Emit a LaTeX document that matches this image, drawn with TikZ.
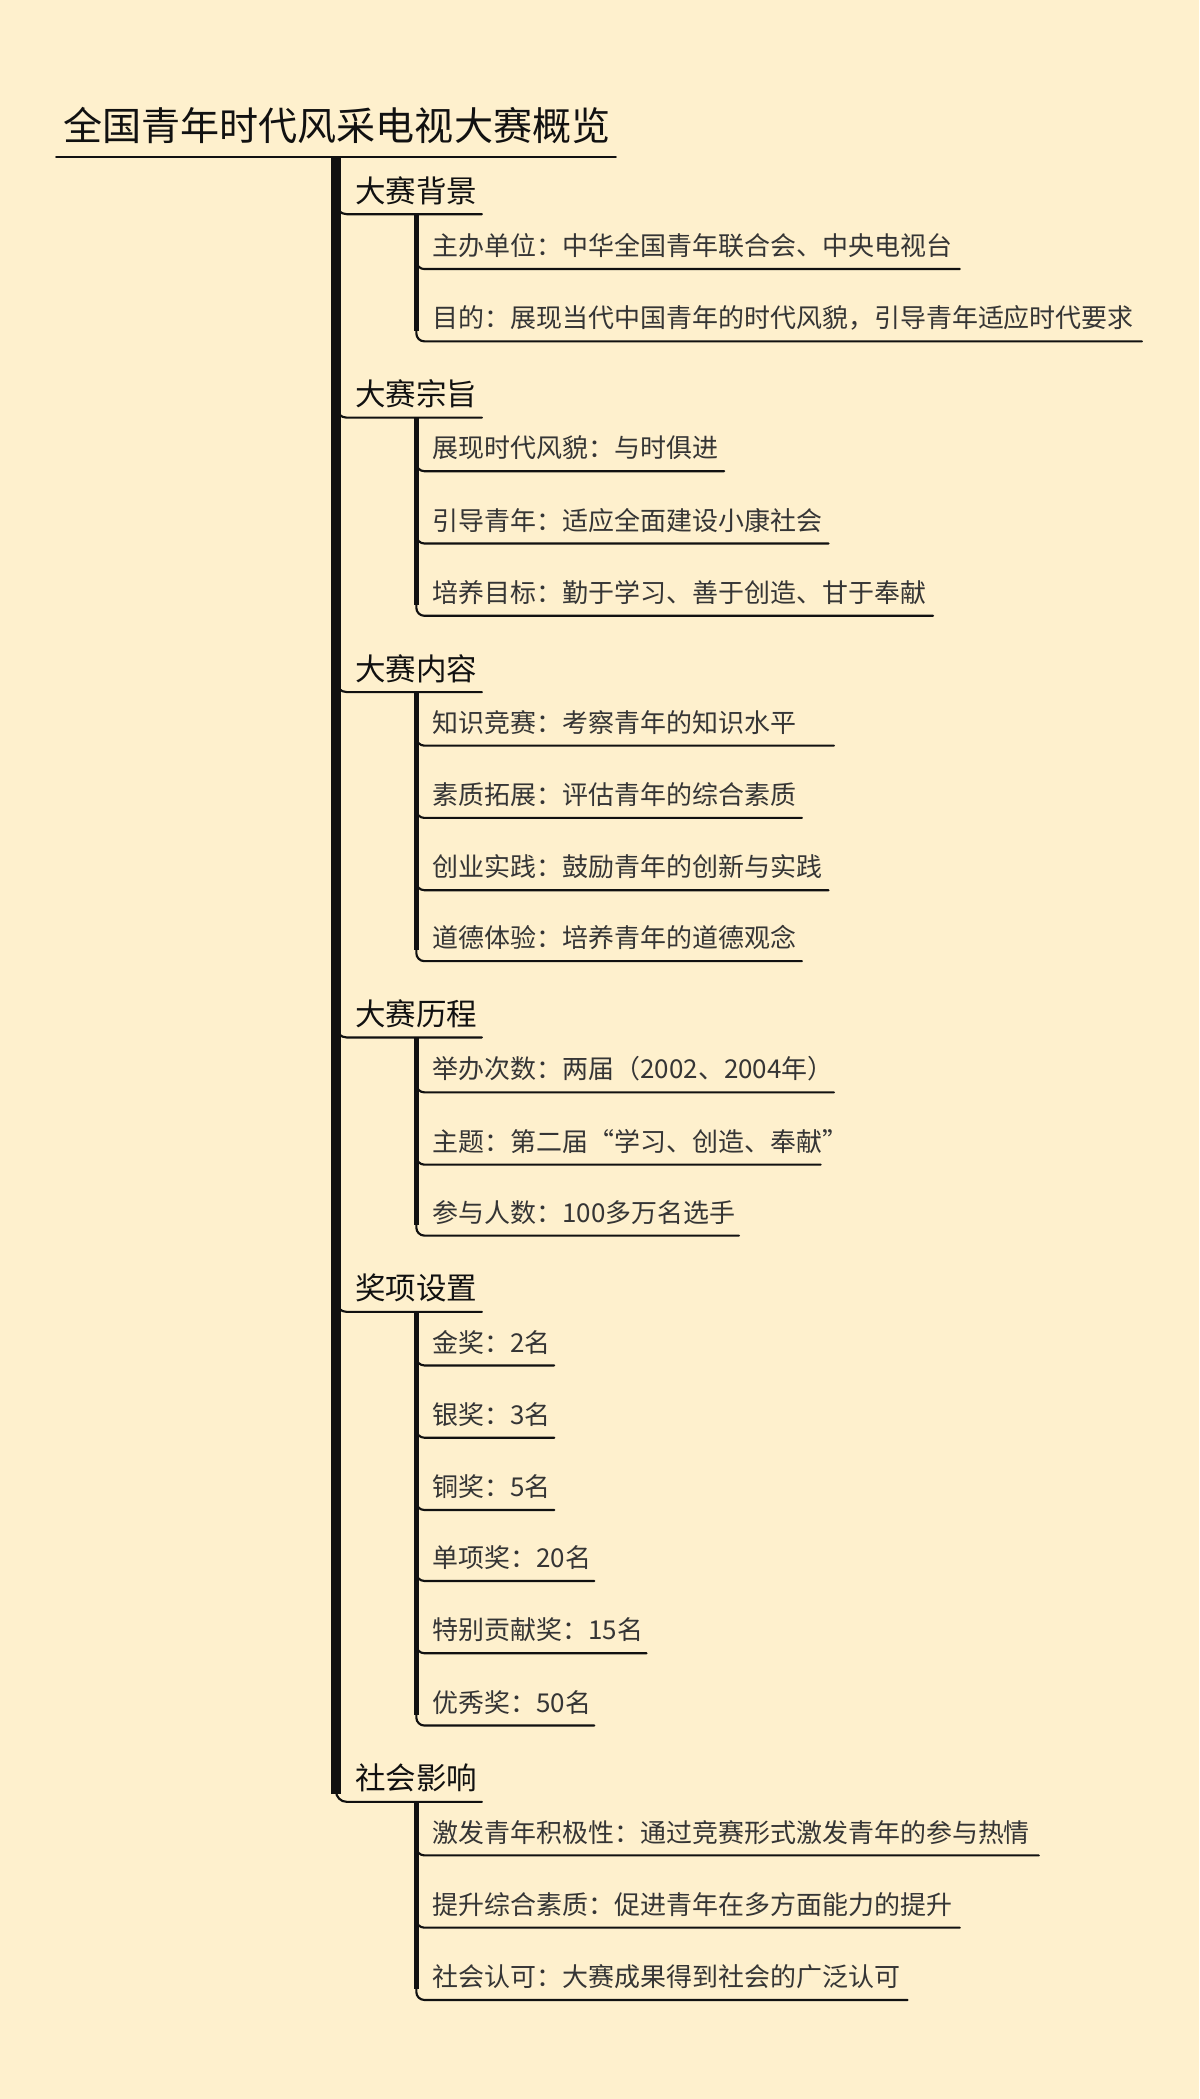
\documentclass[tikz,border=0pt]{standalone}
\usepackage{fontspec}
\setmainfont{Noto Sans CJK SC}
\definecolor{bg}{HTML}{FEF0CD}
\definecolor{ink}{HTML}{111111}
\begin{document}
\begin{tikzpicture}[x=1pt,y=-1pt,
  cattext/.style={anchor=base west,inner sep=0pt,font=\fontsize{22.8}{26}\selectfont,text=ink},
  kidtext/.style={anchor=base west,inner sep=0pt,font=\fontsize{19.4}{23}\selectfont,text=ink!85},
  uline/.style={draw=ink,line width=1.6pt,line cap=round},
  kidbar/.style={draw=ink,line width=3.5pt},
  mainbar/.style={draw=ink,line width=7pt}]
\fill[bg] (0,0) rectangle (896,1568);
\useasboundingbox (0,0) rectangle (896,1568);
\node[anchor=base west,inner sep=0pt,font=\fontsize{29.2}{33}\selectfont,text=ink] (title) at (47,105) {全国青年时代风采电视大赛概览};
\coordinate (tl) at (42,117); \coordinate (tr) at (460,117);
\draw[uline] (tl) -- (tr);
\coordinate (mtop) at (251,117); \coordinate (mbot) at (251,1340);
\draw[mainbar] (mtop) -- (mbot);
\foreach \i/\t/\y in {1/大赛背景/160,2/大赛宗旨/312,3/大赛内容/517,4/大赛历程/775,5/奖项设置/980,6/社会影响/1346}{
  \node[cattext] (c\i) at (265,\y-9) {\t};
  \coordinate (cs\i) at (251,\y-10);
  \coordinate (ce\i) at (360,\y);
  \draw[uline,rounded corners=8pt] (cs\i) |- (ce\i);
}
\foreach \a/\b in {160/255,312/460,517/718,775/923,980/1289,1346/1494}{
  \coordinate (kb\a) at (311,\a); \coordinate (ke\a) at (311,\b-8);
  \draw[kidbar] (kb\a) -- (ke\a);
}
\foreach \i/\t/\y/\e in {
 1/{主办单位：中华全国青年联合会、中央电视台}/201/717,
 2/{目的：展现当代中国青年的时代风貌，引导青年适应时代要求}/255/853,
 3/{展现时代风貌：与时俱进}/352/541,
 4/{引导青年：适应全面建设小康社会}/406/619,
 5/{培养目标：勤于学习、善于创造、甘于奉献}/460/697,
 6/{知识竞赛：考察青年的知识水平}/557/623,
 7/{素质拓展：评估青年的综合素质}/611/599,
 8/{创业实践：鼓励青年的创新与实践}/665/619,
 9/{道德体验：培养青年的道德观念}/718/599,
 10/{举办次数：两届（2002、2004年）}/816/623,
 11/{主题：第二届“学习、创造、奉献”}/870/613,
 12/{参与人数：100多万名选手}/923/552,
 13/{金奖：2名}/1020/414,
 14/{银奖：3名}/1074/414,
 15/{铜奖：5名}/1128/414,
 16/{单项奖：20名}/1181/444,
 17/{特别贡献奖：15名}/1235/483,
 18/{优秀奖：50名}/1289/444,
 19/{激发青年积极性：通过竞赛形式激发青年的参与热情}/1386/776,
 20/{提升综合素质：促进青年在多方面能力的提升}/1440/717,
 21/{社会认可：大赛成果得到社会的广泛认可}/1494/678}{
  \node[kidtext] (k\i) at (323,\y-10) {\t};
  \coordinate (ks\i) at (311,\y-10);
  \coordinate (kend\i) at (\e,\y);
  \draw[uline,rounded corners=6pt] (ks\i) |- (kend\i);
}
\end{tikzpicture}
\end{document}
